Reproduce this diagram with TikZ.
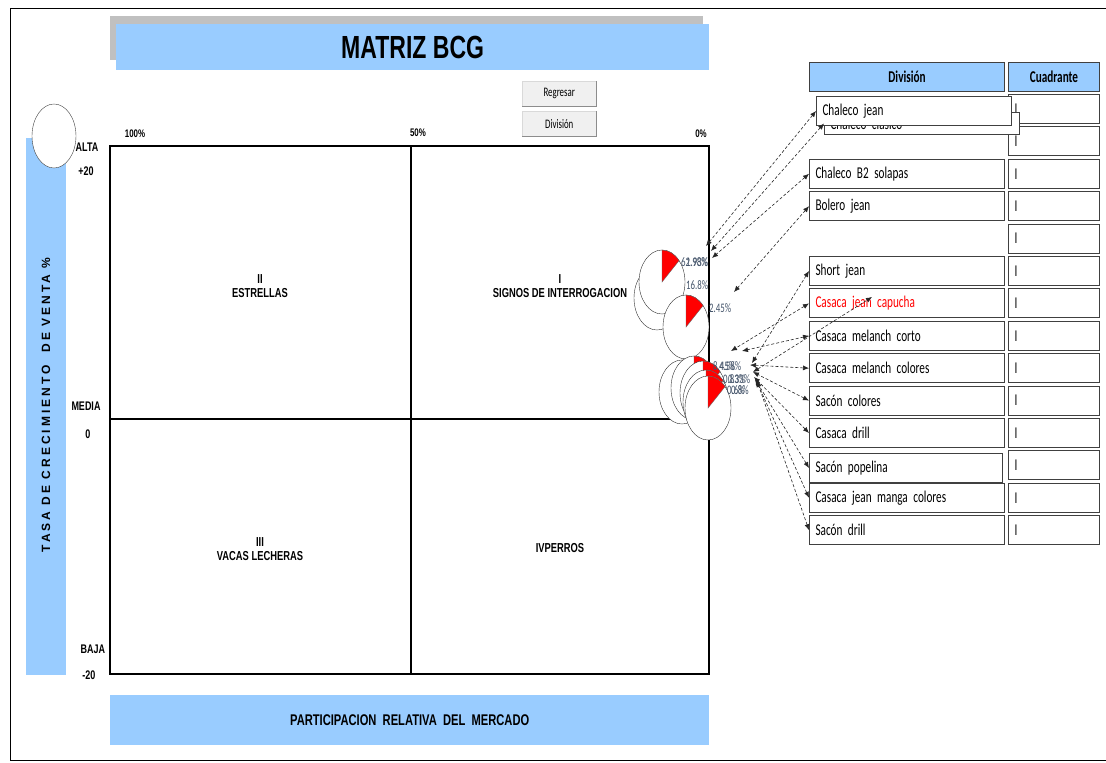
\documentclass[tikz,border=0pt]{standalone}
\usepackage{fontspec}
\setmainfont{Liberation Sans}
\newfontfamily\arialn[FakeStretch=0.72]{Liberation Sans}
\newfontfamily\calib[FakeStretch=0.68, WordSpace=0.6]{Carlito}
\usetikzlibrary{arrows.meta}
\definecolor{celeste}{RGB}{153,204,255}
\definecolor{botongris}{RGB}{240,240,240}
\definecolor{gristitulo}{RGB}{192,192,192}
\definecolor{textopie}{RGB}{68,84,106}

\begin{document}
\begin{tikzpicture}[x=1pt, y=-1pt,
    celda/.style={draw=black!75, line width=1pt, fill=white, anchor=north west,
      minimum height=29pt, text width=183pt, align=left, inner xsep=6pt,
      font=\calib\fontsize{16.5}{18}\selectfont},
    cuad/.style={draw=black!75, line width=1pt, fill=white, anchor=north west,
      minimum height=29pt, text width=79pt, align=left, inner xsep=6pt,
      font=\calib\fontsize{16.5}{18}\selectfont},
    etiq/.style={font=\arialn\bfseries\fontsize{13}{14}\selectfont, align=center},
    eje/.style={font=\arialn\bfseries\fontsize{12.5}{14}\selectfont},
    boton/.style={fill=botongris, draw=black!15, minimum width=74pt, minimum height=25pt,
      anchor=north west, font=\calib\fontsize{13}{14}\selectfont},
    pct/.style={font=\calib\fontsize{13}{14}\selectfont, text=textopie, anchor=west, inner sep=0pt},
    flecha/.style={densely dashed, black!85, line width=0.6pt, {Latex[length=6pt,width=5pt]}-{Latex[length=6pt,width=5pt]}}]
  \useasboundingbox (0,0) rectangle (1106,763);

  % Marco
  \draw[line width=1pt] (1106,8) -- (10,8) -- (10,760) -- (1106,760);

  % Titulo
  \fill[gristitulo] (110,16) rectangle (703,60);
  \node[fill=celeste, minimum width=593pt, minimum height=46pt, anchor=north west,
    font=\arialn\bfseries\fontsize{32}{34}\selectfont] (titulo) at (116,24) {MATRIZ BCG};

  % Botones
  \node[boton] (regresar) at (522,81) {Regresar};
  \node[boton] (division) at (522,111) {División};
  \foreach \b in {regresar, division}{
    \draw[black!45, line width=1pt] (\b.north east) -- (\b.south east) -- (\b.south west);}

  % Barra vertical
  \fill[celeste] (26,138) rectangle (66,675);
  \node[rotate=90, font=\bfseries\fontsize{12}{14}\selectfont\addfontfeature{LetterSpace=25}] (tasa) at (46,405)
    {TASA DE CRECIMIENTO \ DE VENTA \%};
  \draw[black!75, fill=white] (54,136) ellipse [x radius=22, y radius=32];

  % Matriz
  \draw[line width=1.2pt] (110,146) rectangle (709,674);
  \draw[line width=1.2pt] (411,146) -- (411,674);
  \draw[line width=1.2pt] (110,419) -- (709,419);
  \node[eje, font=\arialn\bfseries\fontsize{11}{12}\selectfont] (p100) at (135,134) {100\%};
  \node[eje, font=\arialn\bfseries\fontsize{11}{12}\selectfont] (p50) at (418,133) {50\%};
  \node[eje, font=\arialn\bfseries\fontsize{11}{12}\selectfont] (p0) at (701,134) {0\%};
  \node[eje] (alta) at (87,147) {ALTA};
  \node[eje] (mas20) at (86,171) {+20};
  \node[eje] (media) at (86,406) {MEDIA};
  \node[eje] (cero) at (88,434) {0};
  \node[eje] (baja) at (93,649) {BAJA};
  \node[eje] (menos20) at (89,675) {-20};

  % Cuadrantes
  \node[etiq] (q2) at (260,286) {II\\ESTRELLAS};
  \node[etiq] (q1) at (560,286) {I\\SIGNOS DE INTERROGACION};
  \node[etiq] (q3) at (260,549) {III\\VACAS LECHERAS};
  \node[etiq] (q4) at (560,548) {IVPERROS};

  % Barra inferior
  \node[fill=celeste, minimum width=599pt, minimum height=50pt, anchor=north west,
    font=\arialn\bfseries\fontsize{15.5}{17}\selectfont] (participacion) at (110,695)
    {PARTICIPACION \ RELATIVA \ DEL \ MERCADO};

  % Graficos circulares
  \foreach \cx/\cy in {657/298, 662/282, 686/327, 682/392, 694/388, 703/393, 706/402, 708/408}{
    \draw[black!80, fill=white] (\cx,\cy) ellipse [x radius=23, y radius=32];
    \filldraw[fill=red, draw=black!60] (\cx,\cy) -- ++(0,-32)
      arc[start angle=-90, end angle=-42, x radius=23, y radius=32] -- cycle;}

  % Porcentajes
  \node[pct] (e1a) at (681,262) {62.98\%};
  \node[pct] (e1b) at (686,262) {1.93\%};
  \node[pct] (e2) at (686,285) {16.8\%};
  \node[pct] (e3) at (709,308) {2.45\%};
  \node[pct] (e4a) at (713,366) {8.45\%};
  \node[pct] (e4b) at (719,366) {4.58\%};
  \node[pct] (e5a) at (723,379) {0.83\%};
  \node[pct] (e5b) at (728,379) {0.33\%};
  \node[pct] (e6a) at (727,390) {0.6\%};
  \node[pct] (e6b) at (731,390) {0.8\%};

  % Tabla
  \node[fill=celeste, draw=black!75, line width=1pt, minimum width=195pt, minimum height=29pt,
    anchor=north west, font=\calib\bfseries\fontsize{16.5}{18}\selectfont] (hdiv) at (809,62) {División};
  \node[fill=celeste, draw=black!75, line width=1pt, minimum width=91pt, minimum height=29pt,
    anchor=north west, font=\calib\bfseries\fontsize{16.5}{18}\selectfont] (hcua) at (1008,62) {Cuadrante};
  \foreach \i in {1,...,14}{
    \node[cuad] (c\i) at (1008,{94+(\i-1)*32.4}) {I};}
  \node[celda, minimum height=22pt, inner ysep=2pt] (d2) at (824,112) {Chaleco clásico};
  \node[celda] (d1) at (816,96) {Chaleco jean};
  \foreach \i/\txt in {3/Chaleco B2 solapas, 4/Bolero jean, 6/Short jean,
      8/Casaca melanch corto, 9/Casaca melanch colores, 10/Sacón colores,
      11/Casaca drill, 13/Casaca jean manga colores, 14/Sacón drill}{
    \node[celda] (d\i) at (809,{94+(\i-1)*32.4}) {\txt};}
  \node[celda, text=red] (d7) at (809,288.4) {Casaca jean capucha};
  \node[celda, text width=181pt] (d12) at (809,453) {Sacón popelina};

  % Llamadas
  \coordinate (t1) at (706,246);
  \coordinate (t2) at (711,251);
  \coordinate (t3) at (712,258);
  \coordinate (t4) at (734,292);
  \coordinate (t6) at (752,363);
  \coordinate (t7) at (731,351);
  \coordinate (t8) at (742,351);
  \coordinate (t9) at (750,365);
  \coordinate (t10) at (753,372);
  \coordinate (t11) at (754,377);
  \coordinate (t12) at (755,379);
  \coordinate (t13) at (756,380);
  \coordinate (t14) at (757,381);
  \coordinate (m7) at (872,297);
  \foreach \i in {1,2,3,4,6,7,8,9,10,11,12,13,14}{
    \draw[flecha] (d\i.west) -- (t\i);}
  \draw[flecha] (t10) -- (m7);
\end{tikzpicture}
\end{document}
